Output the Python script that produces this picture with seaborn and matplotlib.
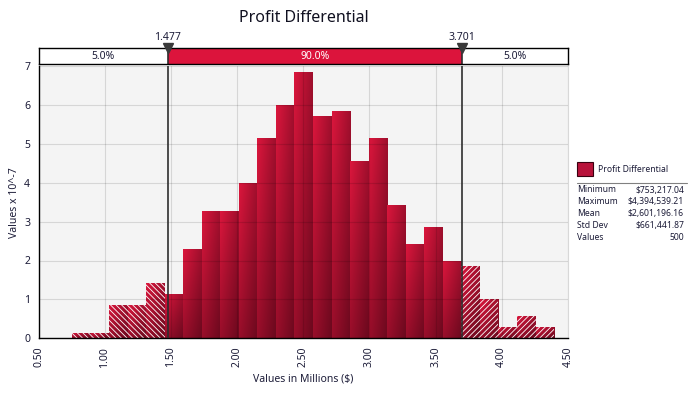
import numpy as np
import pandas as pd
import seaborn as sns
import matplotlib.pyplot as plt
from matplotlib.patches import Rectangle
from matplotlib.lines import Line2D

# data
n_values = 500
min_val = 0.75321704   # millions
max_val = 4.39453921
counts = [1, 1, 6, 6, 10, 8, 16, 23, 23, 28, 36, 42, 48,
          40, 41, 32, 36, 24, 17, 20, 14, 13, 7, 2, 4, 2]
delimiters = [1.477, 3.701]
band_pcts = ["5.0%", "90.0%", "5.0%"]
stat_names = ["Minimum", "Maximum", "Mean", "Std Dev", "Values"]
stat_values = ["$753,217.04", "$4,394,539.21", "$2,601,196.16", "$661,441.87", "500"]
x_ticks = [0.5, 1.0, 1.5, 2.0, 2.5, 3.0, 3.5, 4.0, 4.5]
y_ticks = [0, 1, 2, 3, 4, 5, 6, 7]

# bins and density (values x 10^-7 per dollar)
edges = np.linspace(min_val, max_val, len(counts) + 1)
width = edges[1] - edges[0]
centers = (edges[:-1] + edges[1:]) / 2
heights = np.array(counts) / (n_values * width * 1e6) * 1e7
df = pd.DataFrame({"value": centers, "density": heights})

sns.set_style("white")
plt.rcParams['font.family'] = ['Noto Sans', 'DejaVu Sans']
plt.rcParams['hatch.color'] = 'white'
plt.rcParams['hatch.linewidth'] = 0.6
txt = '#1c1c38'

fig = plt.figure(figsize=(6.93, 3.94), dpi=100)
W, H = 693, 394
ax = fig.add_axes([38.5 / W, 1 - 338.3 / H, (568 - 38.5) / W, (338.3 - 66) / H])
band = fig.add_axes([38.5 / W, 1 - 63.5 / H, (568 - 38.5) / W, 15.5 / H])

ax.set_facecolor('#f4f4f4')
sns.histplot(data=df, x="value", weights="density", bins=list(edges), ax=ax,
             color='#c0143a', alpha=1, linewidth=0)

# gradient fill per bar
tl = np.array([218, 22, 60]) / 255
tr = np.array([160, 15, 45]) / 255
bl = np.array([152, 14, 42]) / 255
br = np.array([108, 9, 30]) / 255
u = np.linspace(0, 1, 16)[None, :, None]
v = np.linspace(1, 0, 40)[:, None, None]
grad = tl * (1 - u) * v + tr * u * v + bl * (1 - u) * (1 - v) + br * u * (1 - v)

for i, p in enumerate(ax.patches):
    x0, w, h = p.get_x(), p.get_width(), p.get_height()
    im = ax.imshow(grad, extent=[x0, x0 + w, 0, h], aspect='auto',
                   interpolation='bilinear', zorder=1.2)
    im.set_clip_path(p)
    p.set_facecolor('none')
    p.set_edgecolor('white')
    p.set_linewidth(0)
    p.set_zorder(1.5)
    if centers[i] < delimiters[0]:
        p.set_hatch('\\\\\\\\\\\\')
    elif centers[i] > delimiters[1]:
        p.set_hatch('//////')

ax.set_xlim(0.5, 4.5)
ax.set_ylim(0, 7)
ax.set_axisbelow(False)
ax.grid(True, color='black', alpha=0.12, lw=0.8)
for d in delimiters:
    ax.axvline(d, color='#2e2e2e', lw=1.2, zorder=4)

ax.set_xticks(x_ticks)
ax.set_xticklabels([f"{t:.2f}" for t in x_ticks], rotation=90, fontsize=7.5, color=txt)
ax.set_yticks(y_ticks)
ax.set_yticklabels([str(t) for t in y_ticks], fontsize=7.5, color=txt)
ax.tick_params(direction='out', length=4, width=0.8, color='black', pad=2)
ax.set_xlabel("Values in Millions ($)", fontsize=7.5, color=txt, labelpad=4)
ax.set_ylabel("Values x 10^-7", fontsize=7.5, color=txt, labelpad=3)
for s in ['left', 'bottom']:
    ax.spines[s].set_color('black')
    ax.spines[s].set_linewidth(1)
ax.spines['top'].set_visible(False)
ax.spines['right'].set_color('#d8d8d8')
ax.spines['right'].set_linewidth(0.8)

# delimiter band
seg_edges = [0.5] + delimiters + [4.5]
seg_colors = ['white', '#dc143c', 'white']
seg_text = [txt, 'white', txt]
for j in range(3):
    band.axvspan(seg_edges[j], seg_edges[j + 1], color=seg_colors[j], lw=0)
    band.text((seg_edges[j] + seg_edges[j + 1]) / 2, 0.45, band_pcts[j],
              ha='center', va='center', fontsize=7.5, color=seg_text[j])
band.set_xlim(0.5, 4.5)
band.set_ylim(0, 1)
band.set_xticks([])
band.set_yticks([])
for s in band.spines.values():
    s.set_color('black')
    s.set_linewidth(1)
for d in delimiters:
    band.axvline(d, color='#2e2e2e', lw=1.2)
    band.plot([d], [1.0], marker='v', markersize=7, color='#3a3a3a',
              clip_on=False, zorder=5)
    band.annotate(f"{d:.3f}", xy=(d, 1.0), xycoords=('data', 'axes fraction'),
                  xytext=(0, 6), textcoords='offset points',
                  ha='center', va='baseline', fontsize=7.5, color=txt)

fig.text(304 / W, 1 - 18 / H, "Profit Differential", ha='center', va='center',
         fontsize=11.5, color='#101020')

# legend and statistics
fig.patches.append(Rectangle((577 / W, 1 - 176 / H), 16 / W, 14 / H,
                             transform=fig.transFigure, facecolor='#b8123a',
                             edgecolor='#3a0010', lw=0.8))
fig.text(598 / W, 1 - 169 / H, "Profit Differential", ha='left', va='center',
         fontsize=6.2, color=txt)
fig.lines.append(Line2D([577 / W, 687 / W], [1 - 183 / H, 1 - 183 / H],
                        transform=fig.transFigure, color='#808080', lw=0.8))
for k, (nm, val) in enumerate(zip(stat_names, stat_values)):
    yy = 1 - (190 + k * 11.8) / H
    fig.text(577 / W, yy, nm, ha='left', va='center', fontsize=6.2, color=txt)
    fig.text(684 / W, yy, val, ha='right', va='center', fontsize=6.2, color=txt)

fig.savefig("out.png", dpi=100, facecolor='white')
